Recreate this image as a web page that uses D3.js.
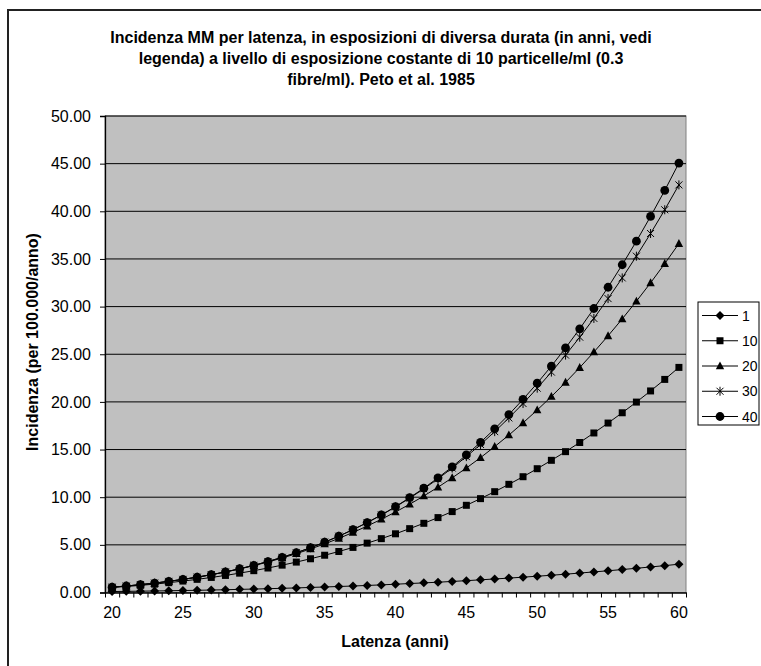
<!DOCTYPE html>
<html>
<head>
<meta charset="utf-8">
<script src="https://cdn.jsdelivr.net/npm/d3@7"></script>
<style>
  html, body { margin: 0; padding: 0; background: #fff; }
  svg { display: block; }
  text { font-family: "Liberation Sans", Arial, sans-serif; fill: #000; }
</style>
</head>
<body>
<svg id="chart" width="761" height="666"></svg>
<script>
// ---------- data ----------
const titleLines = [
  "Incidenza MM per latenza, in esposizioni di diversa durata (in anni, vedi",
  "legenda) a livello di esposizione costante di 10 particelle/ml (0.3",
  "fibre/ml). Peto et al. 1985"
];
const xTitle = "Latenza (anni)";
const yTitle = "Incidenza (per 100.000/anno)";

const latenza = [20,21,22,23,24,25,26,27,28,29,30,31,32,33,34,35,36,37,38,39,40,
                 41,42,43,44,45,46,47,48,49,50,51,52,53,54,55,56,57,58,59,60];
const xTickLabels = [20,25,30,35,40,45,50,55,60];
const yTickValues = [0,5,10,15,20,25,30,35,40,45,50];

const durata = ["1","10","20","30","40"];
const s1  = [0.10,0.12,0.14,0.16,0.18,0.21,0.23,0.26,0.29,0.33,0.36,0.40,0.44,0.48,0.53,0.58,0.63,0.68,0.74,0.80,0.87,
             0.94,1.01,1.08,1.16,1.24,1.33,1.42,1.51,1.61,1.71,1.81,1.92,2.04,2.16,2.28,2.41,2.54,2.68,2.82,2.97];
const s10 = [0.53,0.63,0.75,0.88,1.03,1.20,1.38,1.58,1.79,2.03,2.29,2.57,2.87,3.19,3.54,3.91,4.30,4.73,5.18,5.65,6.16,
             6.70,7.26,7.86,8.49,9.15,9.85,10.58,11.35,12.15,12.99,13.87,14.78,15.74,16.74,17.78,18.86,19.98,21.15,22.36,23.62];
const s20 = [0.56,0.68,0.82,0.98,1.17,1.37,1.60,1.86,2.15,2.47,2.82,3.20,3.62,4.07,4.57,5.10,5.68,6.30,6.97,7.68,8.45,
             9.26,10.13,11.05,12.03,13.06,14.15,15.31,16.52,17.80,19.15,20.56,22.05,23.60,25.23,26.93,28.71,30.56,32.49,34.51,36.61];
const s30 = [0.56,0.68,0.82,0.99,1.17,1.38,1.61,1.87,2.16,2.49,2.85,3.25,3.69,4.17,4.70,5.28,5.91,6.59,7.33,8.12,8.98,
             9.90,10.88,11.93,13.06,14.26,15.53,16.88,18.32,19.83,21.44,23.13,24.91,26.79,28.76,30.84,33.01,35.29,37.67,40.16,42.77];
const s40 = [0.56,0.68,0.82,0.99,1.17,1.38,1.61,1.87,2.16,2.49,2.85,3.25,3.69,4.17,4.70,5.28,5.91,6.60,7.34,8.14,9.01,
             9.95,10.95,12.03,13.19,14.43,15.76,17.17,18.67,20.27,21.96,23.76,25.66,27.67,29.80,32.03,34.39,36.86,39.46,42.19,45.06];
const seriesValues = [s1, s10, s20, s30, s40];
const markerTypes = ["diamond","square","triangle","star","circle"];

// ---------- layout ----------
const plot = { left: 105, right: 686, top: 116, bottom: 592.5 };
const FONT = '"Liberation Sans", Arial, sans-serif';

const svg = d3.select("#chart");

// outer chart frame (cropped at right/bottom like the reference)
svg.append("rect")
  .attr("x", 8).attr("y", 10).attr("width", 800).attr("height", 700)
  .attr("fill", "#fff").attr("stroke", "#222").attr("stroke-width", 2);

// title
const title = svg.append("text")
  .attr("text-anchor", "middle")
  .attr("font-size", 16).attr("font-weight", "bold");
titleLines.forEach((l, i) => {
  title.append("tspan").attr("x", 381).attr("y", 43 + i * 21).text(l);
});

// scales
const x = d3.scaleBand().domain(latenza).range([plot.left, plot.right]).paddingInner(0).paddingOuter(0);
const xb = d3.scaleLinear().domain([0, latenza.length]).range([plot.left, plot.right]);
const y = d3.scaleLinear().domain([0, 50]).range([plot.bottom, plot.top]);
const cx = d => x(d) + x.bandwidth() / 2;

// plot area
svg.append("rect")
  .attr("x", plot.left).attr("y", plot.top)
  .attr("width", plot.right - plot.left).attr("height", plot.bottom - plot.top)
  .attr("fill", "#c0c0c0").attr("stroke", "#808080").attr("stroke-width", 1);

// gridlines
svg.append("g").selectAll("line").data(yTickValues.filter(v => v > 0)).join("line")
  .attr("x1", plot.left).attr("x2", plot.right)
  .attr("y1", d => y(d)).attr("y2", d => y(d))
  .attr("stroke", "#000").attr("stroke-width", 1);

// y axis
const yAxis = svg.append("g").attr("transform", `translate(${plot.left},0)`)
  .call(d3.axisLeft(y).tickValues(yTickValues).tickFormat(d3.format(".2f")).tickSize(5).tickPadding(9));
yAxis.select(".domain").attr("stroke", "#000").attr("stroke-width", 1.3);
yAxis.selectAll(".tick line").attr("stroke", "#000");
yAxis.selectAll(".tick text").attr("font-size", 16).attr("font-family", FONT).attr("fill", "#000");

// x axis: tick marks between categories
const xAxisMarks = svg.append("g").attr("transform", `translate(0,${plot.bottom})`)
  .call(d3.axisBottom(xb).tickValues(d3.range(0, latenza.length + 1)).tickFormat("").tickSize(5).tickSizeOuter(0));
xAxisMarks.select(".domain").attr("stroke", "#000").attr("stroke-width", 1.3);
xAxisMarks.selectAll(".tick line").attr("stroke", "#000");

// x axis labels
const xAxisLabels = svg.append("g").attr("transform", `translate(0,${plot.bottom})`)
  .call(d3.axisBottom(x).tickValues(xTickLabels).tickSize(0).tickPadding(14));
xAxisLabels.select(".domain").remove();
xAxisLabels.selectAll(".tick text").attr("font-size", 16).attr("font-family", FONT).attr("fill", "#000");

// axis titles
svg.append("text").attr("x", 395).attr("y", 647).attr("text-anchor", "middle")
  .attr("font-size", 16).attr("font-weight", "bold").text(xTitle);
svg.append("text").attr("transform", "translate(38,342) rotate(-90)").attr("text-anchor", "middle")
  .attr("font-size", 16).attr("font-weight", "bold").text(yTitle);

// marker path generators
function markerPath(type) {
  switch (type) {
    case "diamond": return "M0,-4.5L4.5,0L0,4.5L-4.5,0Z";
    case "square": return "M-3.5,-3.5H3.5V3.5H-3.5Z";
    case "triangle": return "M0,-4.5L4.2,3.3H-4.2Z";
    case "star": return "M-3.5,-3.5L3.5,3.5M-3.5,3.5L3.5,-3.5M0,-4.5V4.5";
    case "circle": return d3.symbol(d3.symbolCircle, Math.PI * 4.4 * 4.4)();
  }
}
function drawMarker(g, type) {
  const p = g.append("path").attr("d", markerPath(type));
  if (type === "star") p.attr("fill", "none").attr("stroke", "#000").attr("stroke-width", 1);
  else p.attr("fill", "#000").attr("stroke", "none");
}

// series
const line = d3.line().x((d, i) => cx(latenza[i])).y(d => y(d));
const seriesG = svg.append("g");
seriesValues.forEach((vals, si) => {
  const g = seriesG.append("g");
  g.append("path").datum(vals).attr("d", line)
    .attr("fill", "none").attr("stroke", "#000").attr("stroke-width", 1);
  g.selectAll("g.m").data(vals).join("g").attr("class", "m")
    .attr("transform", (d, i) => `translate(${cx(latenza[i])},${y(d)})`)
    .each(function () { drawMarker(d3.select(this), markerTypes[si]); });
});

// legend
const legend = svg.append("g");
legend.append("rect").attr("x", 698).attr("y", 302).attr("width", 61).attr("height", 123)
  .attr("fill", "#fff").attr("stroke", "#000").attr("stroke-width", 1);
const ly = d3.scalePoint().domain(durata).range([315.5, 416.5]);
durata.forEach((name, i) => {
  const g = legend.append("g");
  g.append("line").attr("x1", 702).attr("x2", 738).attr("y1", ly(name)).attr("y2", ly(name))
    .attr("stroke", "#000").attr("stroke-width", 1);
  const m = g.append("g").attr("transform", `translate(720,${ly(name)})`);
  drawMarker(m, markerTypes[i]);
  g.append("text").attr("x", 742).attr("y", ly(name) + 5).attr("font-size", 14).text(name);
});
</script>
</body>
</html>
